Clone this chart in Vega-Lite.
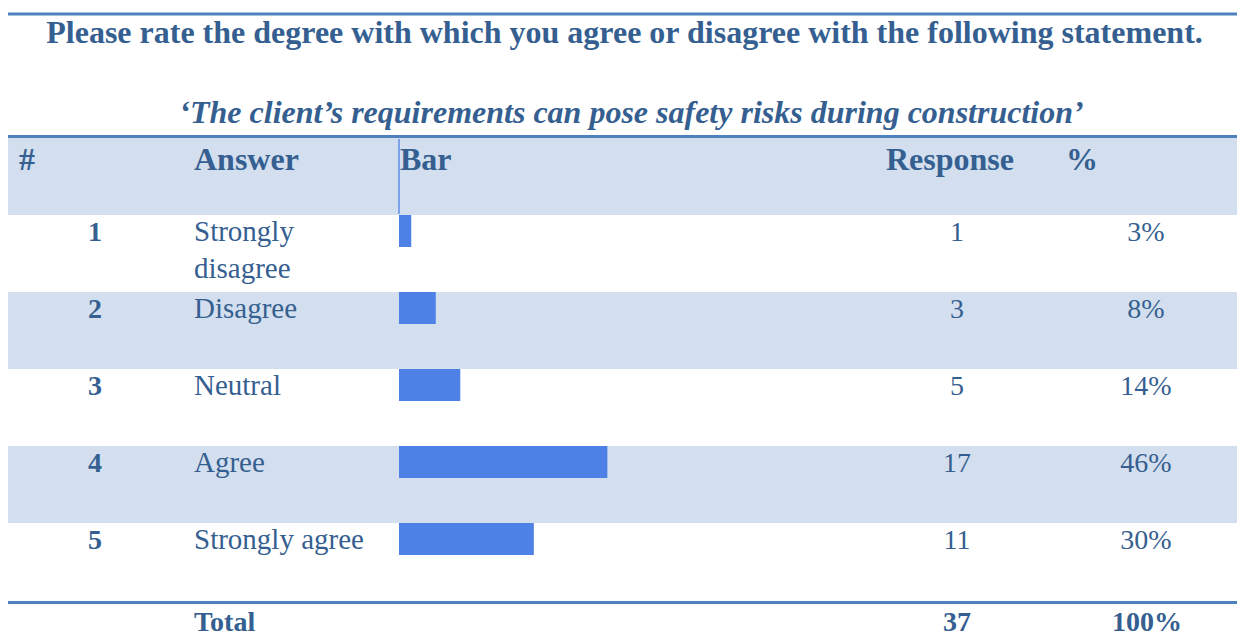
{
  "$schema": "https://vega.github.io/schema/vega-lite/v6.json",
  "padding": {"left": 8, "top": 10, "right": 0, "bottom": 0},
  "background": "white",
  "spacing": 0,
  "config": {
    "view": {"stroke": null},
    "concat": {"spacing": 0},
    "text": {"font": "Liberation Serif", "color": "#365F91", "fontSize": 28, "baseline": "alphabetic"}
  },
  "datasets": {
    "rows": [
      {"rank": "1", "answer": "Strongly\ndisagree", "responses": 1, "percent": 0.03},
      {"rank": "2", "answer": "Disagree", "responses": 3, "percent": 0.08},
      {"rank": "3", "answer": "Neutral", "responses": 5, "percent": 0.14},
      {"rank": "4", "answer": "Agree", "responses": 17, "percent": 0.46},
      {"rank": "5", "answer": "Strongly agree", "responses": 11, "percent": 0.30}
    ],
    "header": [
      {"rank": "#", "hash": "#", "answer": "Answer", "bar": "Bar", "responses": "Response", "percent": "%"}
    ],
    "total": [
      {"label": "Total", "responses": 37, "percent": 1}
    ],
    "heading": [
      {"line": "title", "text": "Please rate the degree with which you agree or disagree with the following statement."},
      {"line": "subtitle", "text": "‘The client’s requirements can pose safety risks during construction’"}
    ]
  },
  "vconcat": [
    {
      "width": 1229,
      "height": 128,
      "data": {"name": "heading"},
      "encoding": {
        "y": {"field": "line", "type": "ordinal", "scale": {"domain": ["title", "subtitle"], "paddingInner": 0, "paddingOuter": 0}, "axis": null}
      },
      "layer": [
        {
          "transform": [{"filter": "datum.line === 'title'"}],
          "mark": {"type": "bar", "height": 3, "yOffset": -28, "fill": "#4F81BD"}
        },
        {
          "transform": [{"filter": "datum.line === 'subtitle'"}],
          "mark": {"type": "bar", "height": 3, "yOffset": 30.5, "fill": "#4F81BD"}
        },
        {
          "transform": [{"filter": "datum.line === 'title'"}],
          "mark": {"type": "text", "fontWeight": "bold", "fontSize": 32, "dy": 32.5, "dx": 2},
          "encoding": {"y": {"field": "line", "type": "ordinal", "bandPosition": 0}, "text": {"field": "text"}}
        },
        {
          "transform": [{"filter": "datum.line === 'subtitle'"}],
          "mark": {"type": "text", "fontWeight": "bold", "fontStyle": "italic", "fontSize": 32, "dy": 48.5, "dx": 9},
          "encoding": {"y": {"field": "line", "type": "ordinal", "bandPosition": 0}, "text": {"field": "text"}}
        }
      ]
    },
    {
      "spacing": 0,
      "bounds": "flush",
      "hconcat": [
        {
          "width": 174,
          "height": 462,
          "data": {"name": "rows"},
          "encoding": {
            "y": {"field": "rank", "type": "ordinal", "scale": {"domain": ["#", "1", "2", "3", "4", "5"], "paddingInner": 0, "paddingOuter": 0}, "axis": null}
          },
          "layer": [
            {"mark": {"type": "rect"}, "encoding": {"fill": {"condition": {"test": "datum.rank === '2' || datum.rank === '4'", "value": "#D3DFEE"}, "value": "#FFFFFF"}}},
            {"data": {"name": "header"}, "mark": {"type": "rect", "fill": "#D3DFEE"}},
            {
              "mark": {"type": "text", "fontWeight": "bold", "dy": 26},
              "encoding": {"y": {"field": "rank", "type": "ordinal", "bandPosition": 0}, "text": {"field": "rank"}}
            },
            {
              "data": {"name": "header"},
              "mark": {"type": "text", "fontWeight": "bold", "fontSize": 32, "dy": 32, "dx": -68},
              "encoding": {"y": {"field": "rank", "type": "ordinal", "bandPosition": 0}, "text": {"field": "hash"}}
            }
          ]
        },
        {
          "width": 217,
          "height": 462,
          "data": {"name": "rows"},
          "encoding": {
            "y": {"field": "rank", "type": "ordinal", "scale": {"domain": ["#", "1", "2", "3", "4", "5"], "paddingInner": 0, "paddingOuter": 0}, "axis": null}
          },
          "layer": [
            {"mark": {"type": "rect"}, "encoding": {"fill": {"condition": {"test": "datum.rank === '2' || datum.rank === '4'", "value": "#D3DFEE"}, "value": "#FFFFFF"}}},
            {"data": {"name": "header"}, "mark": {"type": "rect", "fill": "#D3DFEE"}},
            {
              "mark": {"type": "text", "align": "left", "fontSize": 29, "dy": 26, "dx": -96.5, "lineBreak": "\n", "lineHeight": 37},
              "encoding": {"y": {"field": "rank", "type": "ordinal", "bandPosition": 0}, "text": {"field": "answer"}}
            },
            {
              "data": {"name": "header"},
              "mark": {"type": "text", "align": "left", "fontWeight": "bold", "fontSize": 32, "dy": 32, "dx": -96.5},
              "encoding": {"y": {"field": "rank", "type": "ordinal", "bandPosition": 0}, "text": {"field": "answer"}}
            }
          ]
        },
        {
          "width": 478,
          "height": 462,
          "data": {"name": "rows"},
          "encoding": {
            "y": {"field": "rank", "type": "ordinal", "scale": {"domain": ["#", "1", "2", "3", "4", "5"], "paddingInner": 0, "paddingOuter": 0}, "axis": null}
          },
          "layer": [
            {"mark": {"type": "rect"}, "encoding": {"fill": {"condition": {"test": "datum.rank === '2' || datum.rank === '4'", "value": "#D3DFEE"}, "value": "#FFFFFF"}}},
            {"data": {"name": "header"}, "mark": {"type": "rect", "fill": "#D3DFEE"}},
            {
              "mark": {"type": "bar", "height": 32, "yOffset": -22.5, "fill": "#4E81E6"},
              "encoding": {
                "x": {"field": "responses", "type": "quantitative", "scale": {"domain": [0, 39], "nice": false, "zero": true}, "axis": null}
              }
            },
            {
              "data": {"name": "header"},
              "mark": {"type": "tick", "orient": "vertical", "size": 75, "thickness": 1.3, "color": "#4E81E6", "opacity": 1},
              "encoding": {"x": {"datum": 0, "type": "quantitative"}}
            },
            {
              "data": {"name": "header"},
              "mark": {"type": "text", "align": "left", "fontWeight": "bold", "fontSize": 32, "dy": 32, "dx": -238},
              "encoding": {"y": {"field": "rank", "type": "ordinal", "bandPosition": 0}, "text": {"field": "bar"}}
            }
          ]
        },
        {
          "width": 160,
          "height": 462,
          "data": {"name": "rows"},
          "encoding": {
            "y": {"field": "rank", "type": "ordinal", "scale": {"domain": ["#", "1", "2", "3", "4", "5"], "paddingInner": 0, "paddingOuter": 0}, "axis": null}
          },
          "layer": [
            {"mark": {"type": "rect"}, "encoding": {"fill": {"condition": {"test": "datum.rank === '2' || datum.rank === '4'", "value": "#D3DFEE"}, "value": "#FFFFFF"}}},
            {"data": {"name": "header"}, "mark": {"type": "rect", "fill": "#D3DFEE"}},
            {
              "mark": {"type": "text", "dy": 26},
              "encoding": {"y": {"field": "rank", "type": "ordinal", "bandPosition": 0}, "text": {"field": "responses", "type": "quantitative"}}
            },
            {
              "data": {"name": "header"},
              "mark": {"type": "text", "fontWeight": "bold", "fontSize": 32, "dy": 32, "dx": -7},
              "encoding": {"y": {"field": "rank", "type": "ordinal", "bandPosition": 0}, "text": {"field": "responses"}}
            }
          ]
        },
        {
          "width": 200,
          "height": 462,
          "data": {"name": "rows"},
          "encoding": {
            "y": {"field": "rank", "type": "ordinal", "scale": {"domain": ["#", "1", "2", "3", "4", "5"], "paddingInner": 0, "paddingOuter": 0}, "axis": null}
          },
          "layer": [
            {"mark": {"type": "rect"}, "encoding": {"fill": {"condition": {"test": "datum.rank === '2' || datum.rank === '4'", "value": "#D3DFEE"}, "value": "#FFFFFF"}}},
            {"data": {"name": "header"}, "mark": {"type": "rect", "fill": "#D3DFEE"}},
            {
              "mark": {"type": "text", "dy": 26, "dx": 9},
              "encoding": {"y": {"field": "rank", "type": "ordinal", "bandPosition": 0}, "text": {"field": "percent", "type": "quantitative", "format": ".0%"}}
            },
            {
              "data": {"name": "header"},
              "mark": {"type": "text", "fontWeight": "bold", "fontSize": 32, "dy": 32, "dx": -55},
              "encoding": {"y": {"field": "rank", "type": "ordinal", "bandPosition": 0}, "text": {"field": "percent"}}
            }
          ]
        }
      ]
    },
    {
      "spacing": 0,
      "bounds": "flush",
      "hconcat": [
        {
          "width": 174, "height": 38,
          "data": {"name": "total"},
          "encoding": {"y": {"field": "label", "type": "ordinal", "scale": {"paddingInner": 0, "paddingOuter": 0}, "axis": null}},
          "layer": [
            {"mark": {"type": "bar", "height": 3, "yOffset": -16.5, "fill": "#4F81BD"}}
          ]
        },
        {
          "width": 217, "height": 38,
          "data": {"name": "total"},
          "encoding": {"y": {"field": "label", "type": "ordinal", "scale": {"paddingInner": 0, "paddingOuter": 0}, "axis": null}},
          "layer": [
            {"mark": {"type": "bar", "height": 3, "yOffset": -16.5, "fill": "#4F81BD"}},
            {"mark": {"type": "text", "align": "left", "fontWeight": "bold", "dy": 31, "dx": -96.5}, "encoding": {"y": {"field": "label", "type": "ordinal", "bandPosition": 0}, "text": {"field": "label"}}}
          ]
        },
        {
          "width": 478, "height": 38,
          "data": {"name": "total"},
          "encoding": {"y": {"field": "label", "type": "ordinal", "scale": {"paddingInner": 0, "paddingOuter": 0}, "axis": null}},
          "layer": [
            {"mark": {"type": "bar", "height": 3, "yOffset": -16.5, "fill": "#4F81BD"}}
          ]
        },
        {
          "width": 160, "height": 38,
          "data": {"name": "total"},
          "encoding": {"y": {"field": "label", "type": "ordinal", "scale": {"paddingInner": 0, "paddingOuter": 0}, "axis": null}},
          "layer": [
            {"mark": {"type": "bar", "height": 3, "yOffset": -16.5, "fill": "#4F81BD"}},
            {"mark": {"type": "text", "fontWeight": "bold", "dy": 31}, "encoding": {"y": {"field": "label", "type": "ordinal", "bandPosition": 0}, "text": {"field": "responses", "type": "quantitative"}}}
          ]
        },
        {
          "width": 200, "height": 38,
          "data": {"name": "total"},
          "encoding": {"y": {"field": "label", "type": "ordinal", "scale": {"paddingInner": 0, "paddingOuter": 0}, "axis": null}},
          "layer": [
            {"mark": {"type": "bar", "height": 3, "yOffset": -16.5, "fill": "#4F81BD"}},
            {"mark": {"type": "text", "fontWeight": "bold", "dy": 31, "dx": 10}, "encoding": {"y": {"field": "label", "type": "ordinal", "bandPosition": 0}, "text": {"field": "percent", "type": "quantitative", "format": ".0%"}}}
          ]
        }
      ]
    }
  ]
}
